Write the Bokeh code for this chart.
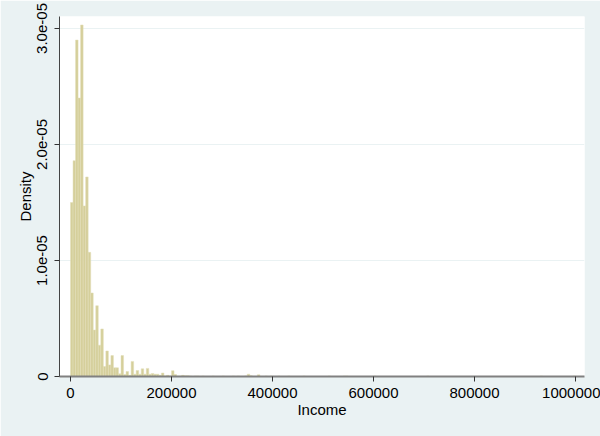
from bokeh.plotting import figure
from bokeh.models import FixedTicker
from bokeh.embed import file_html
from bokeh.resources import INLINE

# histogram of income, bin width 5000, density scale
bin_width = 5000

# bins 0 .. 44 (income 0 - 225000)
main_density = [
    1.50e-05, 1.86e-05, 2.90e-05, 2.40e-05, 3.03e-05, 1.47e-05, 1.72e-05, 1.07e-05,
    0.72e-05, 0.40e-05, 0.61e-05, 0.27e-05, 0.41e-05, 0.086e-05, 0.22e-05, 0.10e-05,
    0.18e-05, 0.075e-05, 0.075e-05, 0.023e-05, 0.18e-05, 0.017e-05, 0.043e-05, 0.01e-05,
    0.13e-05, 0.02e-05, 0.052e-05, 0.02e-05, 0.066e-05, 0.02e-05, 0.07e-05, 0.02e-05,
    0.025e-05, 0.02e-05, 0.02e-05, 0.01e-05, 0.03e-05, 0.005e-05, 0.01e-05, 0.005e-05,
    0.05e-05, 0.017e-05, 0.004e-05, 0.004e-05, 0.01e-05,
]

# sparse tail: bin start and density
tail_start = [225000, 230000, 235000, 245000, 250000, 260000, 280000, 300000,
              320000, 330000, 345000, 350000, 355000, 370000, 385000, 395000,
              410000, 430000, 460000, 510000, 540000, 545000, 600000, 705000,
              930000, 995000]
tail_density = [0.006e-05, 0.006e-05, 0.004e-05, 0.004e-05, 0.004e-05, 0.004e-05,
                0.004e-05, 0.004e-05, 0.004e-05, 0.004e-05, 0.005e-05, 0.02e-05,
                0.006e-05, 0.015e-05, 0.004e-05, 0.004e-05, 0.004e-05, 0.004e-05,
                0.004e-05, 0.004e-05, 0.004e-05, 0.004e-05, 0.004e-05, 0.004e-05,
                0.004e-05, 0.004e-05]

x_ticks = [0, 200000, 400000, 600000, 800000, 1000000]
x_labels = ["0", "200000", "400000", "600000", "800000", "1000000"]
y_ticks = [0, 1e-05, 2e-05, 3e-05]
y_labels = ["0", "1.0e-05", "2.0e-05", "3.0e-05"]

left = [i * bin_width for i in range(len(main_density))] + tail_start
top = main_density + tail_density
right = [l + bin_width for l in left]

FONT = "Liberation Sans"
BG = "#EAF2F3"

p = figure(width=600, height=436, x_range=(-21800, 1017800), y_range=(0, 3.103e-05),
           output_backend="svg", toolbar_location=None, tools="",
           min_border_left=59, min_border_right=16, min_border_top=16, min_border_bottom=60)

p.quad(left=left, right=right, bottom=0, top=top,
       fill_color="#D5CF9B", line_color="#E3DFB8", line_width=0.5)

p.background_fill_color = "white"
p.border_fill_color = BG
p.outline_line_color = None

p.xgrid.grid_line_color = None
p.ygrid.grid_line_color = BG
p.ygrid.grid_line_width = 1.2

p.xaxis.ticker = FixedTicker(ticks=x_ticks)
p.xaxis.major_label_overrides = dict(zip(x_ticks, x_labels))
p.yaxis.ticker = FixedTicker(ticks=y_ticks)
p.yaxis.major_label_overrides = dict(zip(y_ticks, y_labels))
p.yaxis.major_label_orientation = "vertical"

p.xaxis.axis_label = "Income"
p.yaxis.axis_label = "Density"

for ax in (p.xaxis, p.yaxis):
    ax.minor_tick_line_color = None
    ax.major_tick_in = 0
    ax.major_tick_out = 5
    ax.major_tick_line_color = "#333333"
    ax.major_label_text_font = FONT
    ax.major_label_text_font_size = "15px"
    ax.major_label_text_color = "black"
    ax.axis_label_text_font = FONT
    ax.axis_label_text_font_size = "15px"
    ax.axis_label_text_font_style = "normal"
    ax.axis_label_text_color = "black"

p.xaxis.axis_line_color = "#808080"
p.xaxis.axis_line_width = 2
p.yaxis.axis_line_color = "#444444"
p.xaxis.major_label_standoff = 6
p.xaxis.axis_label_standoff = 0
p.yaxis.major_label_standoff = 7
p.yaxis.axis_label_standoff = 1

open("out.html", "w").write(file_html(p, INLINE))
